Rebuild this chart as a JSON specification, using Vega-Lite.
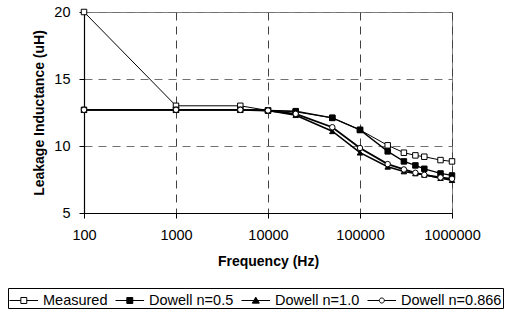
{
  "$schema": "https://vega.github.io/schema/vega-lite/v6.json",
  "width": 368,
  "height": 201,
  "autosize": {"type": "none"},
  "padding": {"left": 84, "top": 12, "right": 55, "bottom": 100},
  "background": "white",
  "data": {
    "values": [
      {"f": 100, "series": "Measured", "L": 20},
      {"f": 1000, "series": "Measured", "L": 13.0},
      {"f": 5000, "series": "Measured", "L": 13.0},
      {"f": 10000, "series": "Measured", "L": 12.65},
      {"f": 20000, "series": "Measured", "L": 12.55},
      {"f": 50000, "series": "Measured", "L": 12.1},
      {"f": 100000, "series": "Measured", "L": 11.2},
      {"f": 200000, "series": "Measured", "L": 10.05},
      {"f": 300000, "series": "Measured", "L": 9.5},
      {"f": 400000, "series": "Measured", "L": 9.3},
      {"f": 500000, "series": "Measured", "L": 9.2},
      {"f": 750000, "series": "Measured", "L": 8.95},
      {"f": 1000000, "series": "Measured", "L": 8.85},
      {"f": 100, "series": "Dowell n=0.5", "L": 12.7},
      {"f": 1000, "series": "Dowell n=0.5", "L": 12.7},
      {"f": 5000, "series": "Dowell n=0.5", "L": 12.7},
      {"f": 10000, "series": "Dowell n=0.5", "L": 12.65},
      {"f": 20000, "series": "Dowell n=0.5", "L": 12.6},
      {"f": 50000, "series": "Dowell n=0.5", "L": 12.1},
      {"f": 100000, "series": "Dowell n=0.5", "L": 11.2},
      {"f": 200000, "series": "Dowell n=0.5", "L": 9.6},
      {"f": 300000, "series": "Dowell n=0.5", "L": 8.85},
      {"f": 400000, "series": "Dowell n=0.5", "L": 8.55},
      {"f": 500000, "series": "Dowell n=0.5", "L": 8.3},
      {"f": 750000, "series": "Dowell n=0.5", "L": 7.95},
      {"f": 1000000, "series": "Dowell n=0.5", "L": 7.8},
      {"f": 100, "series": "Dowell n=1.0", "L": 12.7},
      {"f": 1000, "series": "Dowell n=1.0", "L": 12.7},
      {"f": 5000, "series": "Dowell n=1.0", "L": 12.7},
      {"f": 10000, "series": "Dowell n=1.0", "L": 12.65},
      {"f": 20000, "series": "Dowell n=1.0", "L": 12.3},
      {"f": 50000, "series": "Dowell n=1.0", "L": 11.1},
      {"f": 100000, "series": "Dowell n=1.0", "L": 9.5},
      {"f": 200000, "series": "Dowell n=1.0", "L": 8.45},
      {"f": 300000, "series": "Dowell n=1.0", "L": 8.1},
      {"f": 400000, "series": "Dowell n=1.0", "L": 7.95},
      {"f": 500000, "series": "Dowell n=1.0", "L": 7.85},
      {"f": 750000, "series": "Dowell n=1.0", "L": 7.6},
      {"f": 1000000, "series": "Dowell n=1.0", "L": 7.45},
      {"f": 100, "series": "Dowell n=0.866", "L": 12.7},
      {"f": 1000, "series": "Dowell n=0.866", "L": 12.7},
      {"f": 5000, "series": "Dowell n=0.866", "L": 12.7},
      {"f": 10000, "series": "Dowell n=0.866", "L": 12.65},
      {"f": 20000, "series": "Dowell n=0.866", "L": 12.4},
      {"f": 50000, "series": "Dowell n=0.866", "L": 11.4},
      {"f": 100000, "series": "Dowell n=0.866", "L": 9.85},
      {"f": 200000, "series": "Dowell n=0.866", "L": 8.65},
      {"f": 300000, "series": "Dowell n=0.866", "L": 8.25},
      {"f": 400000, "series": "Dowell n=0.866", "L": 8.0},
      {"f": 500000, "series": "Dowell n=0.866", "L": 7.85},
      {"f": 750000, "series": "Dowell n=0.866", "L": 7.65},
      {"f": 1000000, "series": "Dowell n=0.866", "L": 7.55}
    ]
  },
  "encoding": {
    "x": {
      "field": "f", "type": "quantitative",
      "scale": {"type": "log", "domain": [100, 1000000], "nice": false},
      "axis": {"values": [100, 1000, 10000, 100000, 1000000], "format": "d", "title": "Frequency (Hz)", "titlePadding": 13, "labelFlush": false, "labelPadding": 10}
    },
    "y": {
      "field": "L", "type": "quantitative",
      "scale": {"domain": [5, 20], "nice": false, "zero": false},
      "axis": {"values": [5, 10, 15, 20], "title": "Leakage Inductance (uH)", "titlePadding": 7, "labelPadding": 9}
    }
  },
  "layer": [
    {
      "mark": {"type": "line", "color": "black"},
      "encoding": {
        "detail": {"field": "series"},
        "strokeWidth": {"field": "series", "type": "nominal", "legend": null,
          "scale": {"domain": ["Measured", "Dowell n=0.5", "Dowell n=1.0", "Dowell n=0.866"], "range": [1, 1.8, 1.5, 1.5]}}
      }
    },
    {
      "mark": {"type": "point", "filled": true, "stroke": "black", "strokeWidth": 1, "size": 30, "opacity": 1},
      "encoding": {
        "shape": {"field": "series", "type": "nominal", "legend": null,
          "scale": {"domain": ["Measured", "Dowell n=0.5", "Dowell n=1.0", "Dowell n=0.866"], "range": ["square", "square", "triangle-up", "circle"]}},
        "fill": {"field": "series", "type": "nominal", "legend": null,
          "scale": {"domain": ["Measured", "Dowell n=0.5", "Dowell n=1.0", "Dowell n=0.866"], "range": ["white", "black", "black", "white"]}}
      }
    },
    {
      "mark": {"type": "point", "filled": true, "stroke": "black", "strokeWidth": 1, "opacity": 0},
      "encoding": {
        "shape": {"field": "series", "type": "nominal",
          "scale": {"domain": ["Measured", "Dowell n=0.5", "Dowell n=1.0", "Dowell n=0.866"],
            "range": [
              "M-1,0H0.03M0.57,0H1.6M0.03,-0.27H0.57V0.27H0.03Z",
              "M-1,0H1.6M0.03,-0.27H0.57V0.27H0.03Z",
              "M-1,0H1.6M-0.02,0.24L0.3,-0.3L0.62,0.24Z",
              "M-1,0H0.07M0.53,0H1.6M0.07,0A0.23,0.23 0 1,0 0.53,0A0.23,0.23 0 1,0 0.07,0Z"
            ]},
          "legend": {"title": null, "orient": "none", "legendX": -76, "legendY": 276, "direction": "horizontal", "columns": 4, "gridAlign": "each",
            "encode": {"symbols": {"update": {"opacity": {"value": 1}, "fillOpacity": {"value": 1}, "strokeOpacity": {"value": 1}}}}}
        },
        "fill": {"field": "series", "type": "nominal",
          "scale": {"domain": ["Measured", "Dowell n=0.5", "Dowell n=1.0", "Dowell n=0.866"], "range": ["white", "black", "black", "white"]},
          "legend": {"title": null, "orient": "none", "legendX": -76, "legendY": 276, "direction": "horizontal", "columns": 4, "gridAlign": "each",
            "encode": {"symbols": {"update": {"opacity": {"value": 1}, "fillOpacity": {"value": 1}, "strokeOpacity": {"value": 1}}}}}
        }
      }
    }
  ],
  "resolve": {"scale": {"shape": "independent", "fill": "independent"}},
  "config": {
    "font": "Liberation Sans",
    "view": {"stroke": "#808080", "strokeWidth": 1},
    "axis": {
      "labelFont": "Liberation Sans", "labelFontSize": 14.5, "labelColor": "black",
      "titleFont": "Liberation Sans", "titleFontSize": 14, "titleFontWeight": "bold", "titleColor": "black",
      "domainColor": "black", "domainWidth": 1.2, "tickColor": "black", "tickSize": 5,
      "grid": true, "gridColor": "#404040", "gridDash": [8, 6], "gridWidth": 1
    },
    "axisY": {"gridColor": "#707070"},
    "legend": {
      "labelFont": "Liberation Sans", "labelFontSize": 14.5, "labelColor": "black",
      "strokeColor": "black", "strokeWidth": 1, "padding": 1,
      "symbolSize": 484, "symbolStrokeWidth": 1, "symbolStrokeColor": "black",
      "columnPadding": 5, "labelOffset": 11
    }
  }
}
